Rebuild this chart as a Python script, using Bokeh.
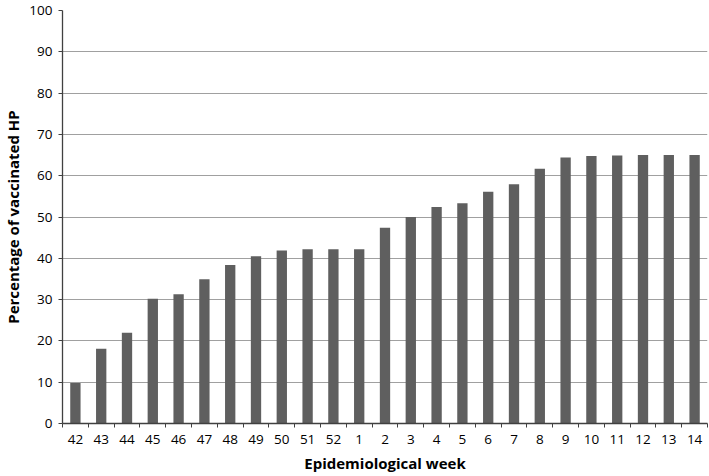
from bokeh.plotting import figure
from bokeh.models import Range1d, FixedTicker, ColumnDataSource
from bokeh.embed import file_html
from bokeh.resources import INLINE

weeks = ["42", "43", "44", "45", "46", "47", "48", "49", "50", "51", "52",
         "1", "2", "3", "4", "5", "6", "7", "8", "9", "10", "11", "12", "13", "14"]
pct_vaccinated = [9.8, 18.1, 22.0, 30.2, 31.3, 34.9, 38.4, 40.5, 41.9, 42.2, 42.2,
                  42.2, 47.4, 50.0, 52.4, 53.3, 56.1, 57.9, 61.7, 64.4, 64.8, 64.9, 65.0, 65.0, 65.0]
y_ticks = [0, 10, 20, 30, 40, 50, 60, 70, 80, 90, 100]

n = len(weeks)
centers = [i + 0.5 for i in range(n)]
edges = [float(i) for i in range(n + 1)]

src = ColumnDataSource(dict(x=centers, top=pct_vaccinated, week=weeks))

p = figure(width=709, height=476, x_range=Range1d(0, n), y_range=Range1d(0, 100),
           output_backend="svg", toolbar_location=None,
           min_border_left=61, min_border_right=2, min_border_top=10, min_border_bottom=53)
p.outline_line_color = None
p.background_fill_color = "white"
p.border_fill_color = "white"

p.vbar(x="x", top="top", bottom=0, width=0.4, source=src,
       fill_color="#5f5f5f", line_color=None)

p.xgrid.visible = False
p.ygrid.grid_line_color = "#a0a0a0"
p.ygrid.grid_line_width = 1.2

FONT = "Open Sans"

# y axis
p.yaxis.ticker = FixedTicker(ticks=y_ticks)
p.yaxis.axis_line_color = "#404040"
p.yaxis.axis_line_width = 1.3
p.yaxis.major_tick_out = 4
p.yaxis.major_tick_in = 0
p.yaxis.major_tick_line_color = "#404040"
p.yaxis.minor_tick_line_color = None
p.yaxis.major_label_text_font = FONT
p.yaxis.major_label_text_font_size = "13.5px"
p.yaxis.major_label_text_color = "#000000"
p.yaxis.major_label_standoff = 6
p.yaxis.axis_label = "Percentage of vaccinated HP"
p.yaxis.axis_label_text_font = FONT
p.yaxis.axis_label_text_font_style = "bold"
p.yaxis.axis_label_text_font_size = "15px"
p.yaxis.axis_label_text_color = "#000000"
p.yaxis.axis_label_standoff = 3

# x axis
p.xaxis.ticker = FixedTicker(ticks=centers, minor_ticks=edges)
p.xaxis.major_label_overrides = {c: w for c, w in zip(centers, weeks)}
p.xaxis.axis_line_color = "#404040"
p.xaxis.axis_line_width = 1.3
p.xaxis.major_tick_out = 0
p.xaxis.major_tick_in = 0
p.xaxis.minor_tick_out = 4
p.xaxis.minor_tick_in = 0
p.xaxis.minor_tick_line_color = "#404040"
p.xaxis.major_label_text_font = FONT
p.xaxis.major_label_text_font_size = "13.5px"
p.xaxis.major_label_text_color = "#000000"
p.xaxis.major_label_standoff = 7
p.xaxis.axis_label = "Epidemiological week"
p.xaxis.axis_label_text_font = FONT
p.xaxis.axis_label_text_font_style = "bold"
p.xaxis.axis_label_text_font_size = "15px"
p.xaxis.axis_label_text_color = "#000000"
p.xaxis.axis_label_standoff = 6

open("out.html", "w").write(file_html(p, INLINE))
